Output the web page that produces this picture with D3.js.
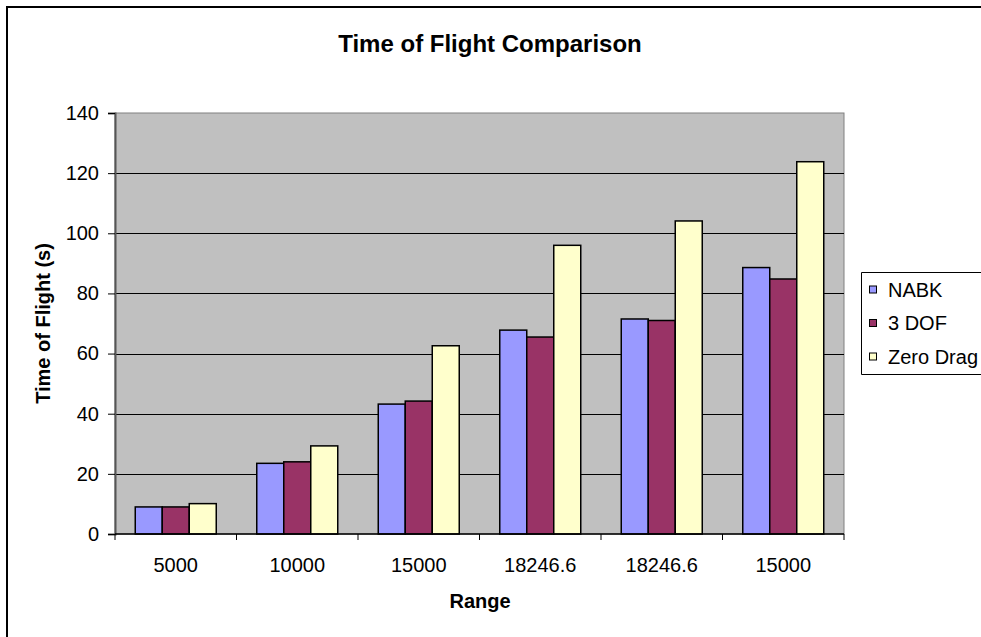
<!DOCTYPE html>
<html>
  <head>
    <meta charset="utf-8">
    <script src="https://cdn.jsdelivr.net/npm/d3@7"></script>
    <style type="text/css">
      html, body { margin: 0; background: #fff; overflow: hidden; }
      svg { display: block; }
      text { font-family: "Liberation Sans", Arial, sans-serif; fill: #000; }
      .axis text { font-size: 20px; }
    </style>
  </head>
  <body>
    <div class="plot_canvas"></div>
    <script>
      var categories = ["5000", "10000", "15000", "18246.6", "18246.6", "15000"];
      var seriesNames = ["NABK", "3 DOF", "Zero Drag"];
      var nabk     = [9.0, 23.5, 43.2, 67.8, 71.5, 88.6];
      var dof3     = [9.0, 24.0, 44.2, 65.5, 71.0, 84.8];
      var zeroDrag = [10.1, 29.3, 62.6, 96.0, 104.1, 123.8];
      var colours  = ["#9999FF", "#993366", "#FFFFCC"];
      var yTicks   = [0, 20, 40, 60, 80, 100, 120, 140];

      var width = 981;
      var height = 637;
      var plot = {left: 115, top: 113, right: 844, bottom: 534};

      var svg = d3.select(".plot_canvas")
      .append("svg")
      .attr("width", width)
      .attr("height", height);

      // outer chart border: only left and top edges fall inside the picture
      svg.append("path")
      .attr("d", d3.line()([[7, height + 5], [7, 7], [width + 5, 7]]))
      .attr("fill", "none")
      .attr("stroke", "#000")
      .attr("stroke-width", 2);

      var xScale = d3.scaleBand()
      .domain(d3.range(categories.length))
      .range([plot.left, plot.right])
      .paddingInner(1/3)
      .paddingOuter(1/6);

      var xSub = d3.scaleBand()
      .domain(d3.range(seriesNames.length))
      .range([0, xScale.bandwidth()]);

      var yScale = d3.scaleLinear()
      .domain([0, 140])
      .range([plot.bottom, plot.top]);

      // plot area
      svg.append("rect")
      .attr("x", plot.left).attr("y", plot.top)
      .attr("width", plot.right - plot.left)
      .attr("height", plot.bottom - plot.top)
      .attr("fill", "#C0C0C0")
      .attr("stroke", "#808080")
      .attr("stroke-width", 1);

      // gridlines
      svg.append("g").selectAll("line")
      .data(yTicks.slice(1, -1)).enter()
      .append("line")
      .attr("x1", plot.left).attr("x2", plot.right)
      .attr("y1", function(d) { return Math.round(yScale(d)) + 0.5; })
      .attr("y2", function(d) { return Math.round(yScale(d)) + 0.5; })
      .attr("stroke", "#000")
      .attr("stroke-width", 1);

      // bars
      var data = [nabk, dof3, zeroDrag];
      var groups = svg.append("g").selectAll("g")
      .data(categories).enter()
      .append("g")
      .attr("transform", function(d, i) { return "translate(" + xScale(i) + ",0)"; });

      groups.selectAll("rect")
      .data(function(d, i) { return data.map(function(s, j) { return {s: j, v: s[i]}; }); })
      .enter().append("rect")
      .attr("x", function(d) { return xSub(d.s); })
      .attr("y", function(d) { return yScale(d.v); })
      .attr("width", xSub.bandwidth())
      .attr("height", function(d) { return yScale(0) - yScale(d.v); })
      .attr("fill", function(d) { return colours[d.s]; })
      .attr("stroke", "#000")
      .attr("stroke-width", 1.5);

      // y axis
      var yAxis = d3.axisLeft(yScale)
      .tickValues(yTicks)
      .tickSize(7)
      .tickPadding(9);

      var gy = svg.append("g")
      .attr("class", "axis")
      .attr("transform", "translate(" + plot.left + ",0)")
      .call(yAxis);
      gy.select(".domain").attr("stroke", "#555").attr("stroke-width", 2);
      gy.selectAll(".tick line").attr("stroke", "#000");

      // x axis
      var xEdges = d3.scaleLinear()
      .domain([0, categories.length])
      .range([plot.left, plot.right]);

      var gx = svg.append("g")
      .attr("class", "axis")
      .attr("transform", "translate(0," + plot.bottom + ")");
      gx.append("line")
      .attr("x1", plot.left).attr("x2", plot.right)
      .attr("stroke", "#000").attr("stroke-width", 1.5);
      gx.selectAll(".edge")
      .data(d3.range(categories.length + 1)).enter()
      .append("line")
      .attr("x1", function(d) { return xEdges(d); })
      .attr("x2", function(d) { return xEdges(d); })
      .attr("y1", 0).attr("y2", 6)
      .attr("stroke", "#000");
      gx.selectAll("text")
      .data(categories).enter()
      .append("text")
      .attr("x", function(d, i) { return xEdges(i + 0.5); })
      .attr("y", 38)
      .attr("text-anchor", "middle")
      .text(function(d) { return d; });

      // titles
      svg.append("text")
      .attr("x", 490).attr("y", 52)
      .attr("text-anchor", "middle")
      .attr("font-weight", "bold")
      .attr("font-size", "24px")
      .text("Time of Flight Comparison");

      svg.append("text")
      .attr("x", 480).attr("y", 608)
      .attr("text-anchor", "middle")
      .attr("font-weight", "bold")
      .attr("font-size", "20px")
      .text("Range");

      svg.append("text")
      .attr("transform", "translate(50," + (plot.top + plot.bottom) / 2 + ") rotate(-90)")
      .attr("text-anchor", "middle")
      .attr("font-weight", "bold")
      .attr("font-size", "20px")
      .text("Time of Flight (s)");

      // legend (right edge runs off the picture)
      var legend = svg.append("g");
      legend.append("path")
      .attr("d", d3.line()([[width + 5, 272.5], [861.5, 272.5], [861.5, 374.5], [width + 5, 374.5]]))
      .attr("fill", "#fff")
      .attr("stroke", "#000");

      var items = legend.selectAll(".item")
      .data(seriesNames).enter()
      .append("g")
      .attr("transform", function(d, i) { return "translate(869," + (289.5 + i * 33.5) + ")"; });
      items.append("rect")
      .attr("x", 0.5).attr("y", -3.5)
      .attr("width", 7).attr("height", 7)
      .attr("fill", function(d, i) { return colours[i]; })
      .attr("stroke", "#000");
      items.append("text")
      .attr("x", 19).attr("y", 7)
      .attr("font-size", "20px")
      .text(function(d) { return d; });
    </script>
  </body>
</html>
